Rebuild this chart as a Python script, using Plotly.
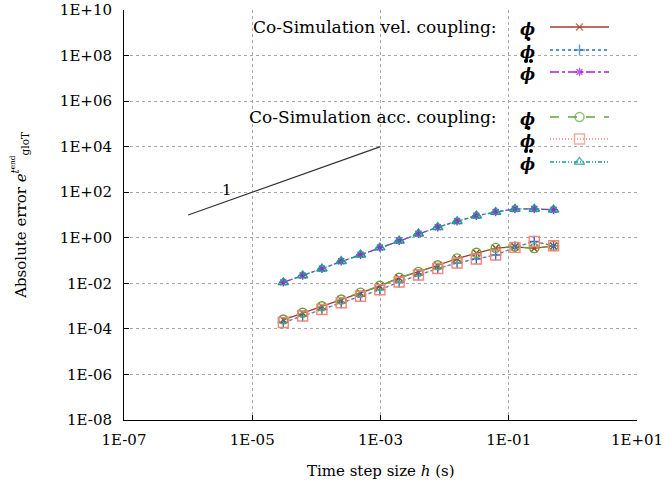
import plotly.graph_objects as go

# ---------------- data ----------------
h = [3.0518e-05, 6.1035e-05, 1.2207e-04, 2.4414e-04, 4.8828e-04, 9.7656e-04,
     1.9531e-03, 3.9063e-03, 7.8125e-03, 1.5625e-02, 3.125e-02, 6.25e-02,
     0.125, 0.25, 0.5]

vel_phi = [2.5e-4, 5.0e-4, 9.7e-4, 1.9e-3, 3.8e-3, 7.6e-3, 0.0172, 0.0316,
           0.061, 0.123, 0.215, 0.355, 0.40, 0.34, 0.44]
vel_dphi = [1.9e-4, 3.7e-4, 7.1e-4, 1.4e-3, 2.7e-3, 5.2e-3, 0.0115, 0.0233,
            0.045, 0.078, 0.117, 0.176, 0.38, 0.69, 0.44]
vel_ddphi = [0.011, 0.022, 0.044, 0.093, 0.18, 0.37, 0.74, 1.5, 2.9, 5.3,
             9.3, 13.5, 18.4, 18.4, 17.0]

acc_phi = [2.6e-4, 5.1e-4, 9.9e-4, 1.95e-3, 3.9e-3, 7.8e-3, 0.0175, 0.032,
           0.062, 0.125, 0.22, 0.36, 0.41, 0.35, 0.44]
acc_dphi = [1.9e-4, 3.7e-4, 7.1e-4, 1.4e-3, 2.7e-3, 5.2e-3, 0.0115, 0.0233,
            0.045, 0.078, 0.117, 0.176, 0.38, 0.69, 0.45]
acc_ddphi = [0.011, 0.022, 0.044, 0.093, 0.18, 0.37, 0.74, 1.5, 2.9, 5.3,
             9.3, 13.5, 18.4, 18.4, 17.0]

slope_x = [1e-6, 1e-3]
slope_y = [1e1, 1e4]

xtick_vals = [1e-7, 1e-5, 1e-3, 1e-1, 1e1]
xtick_text = ["1E-07", "1E-05", "1E-03", "1E-01", "1E+01"]
ytick_vals = [1e-8, 1e-6, 1e-4, 1e-2, 1e0, 1e2, 1e4, 1e6, 1e8, 1e10]
ytick_text = ["1E-08", "1E-06", "1E-04", "1E-02", "1E+00", "1E+02",
              "1E+04", "1E+06", "1E+08", "1E+10"]

PHI = "\u03d5"
group_titles = ["Co-Simulation vel. coupling:", "Co-Simulation acc. coupling:"]

FONT = "DejaVu Serif"

# styles: (color, dash, symbol, size)
styles = [
    ("#a33b2a", "solid", "x-thin-open", 7),
    ("#1e6fd0", "dot", "cross-thin-open", 8),
    ("#a321d6", "dashdot", "asterisk-open", 7),
    ("#65a33a", "dash", "circle-open", 9),
    ("#f4877a", "1px,2px", "square-open", 10),
    ("#1e9d8f", "4px,2px,1px,2px,1px,2px", "triangle-up-open", 9),
]
series = [vel_phi, vel_dphi, vel_ddphi, acc_phi, acc_dphi, acc_ddphi]

fig = go.Figure()

for (col, dash, sym, sz), ys in zip(styles, series):
    fig.add_trace(go.Scatter(
        x=h, y=ys, mode="lines+markers",
        line=dict(color=col, width=1.3, dash=dash),
        marker=dict(symbol=sym, size=sz, color=col,
                    line=dict(color=col, width=1.4)),
        showlegend=False, xaxis="x", yaxis="y"))

fig.add_trace(go.Scatter(x=slope_x, y=slope_y, mode="lines",
                         line=dict(color="#333333", width=1.2),
                         showlegend=False))

# ---------- custom legend (pixel-like overlay axes) ----------
rows_y = [[27, 50, 72], [117, 139, 162]]
annots = []
dots_x, dots_y = [], []
for g in range(2):
    annots.append(dict(xref="x2", yref="y2", x=499, y=rows_y[g][0],
                       text=group_titles[g], showarrow=False,
                       xanchor="right", yanchor="middle",
                       font=dict(family=FONT, size=17, color="black")))
    for r in range(3):
        (col, dash, sym, sz) = styles[g * 3 + r]
        yy = rows_y[g][r]
        fig.add_trace(go.Scatter(
            x=[550, 579.5, 609], y=[yy, yy, yy], mode="lines+markers",
            line=dict(color=col, width=1.3, dash=dash),
            marker=dict(symbol=sym, size=[0, sz, 0], color=col,
                        line=dict(color=col, width=1.4)),
            showlegend=False, xaxis="x2", yaxis="y2", hoverinfo="skip"))
        annots.append(dict(xref="x2", yref="y2", x=527, y=yy + 2,
                           text="<b><i>" + PHI + "</i></b>",
                           showarrow=False, xanchor="center", yanchor="middle",
                           font=dict(family=FONT, size=16, color="black")))
        if r == 1:
            dots_x += [528.5]
            dots_y += [yy - 11]
        elif r == 2:
            dots_x += [526.0, 531.0]
            dots_y += [yy - 11, yy - 11]

fig.add_trace(go.Scatter(x=dots_x, y=dots_y, mode="markers",
                         marker=dict(symbol="circle", size=4, color="black",
                                     line=dict(width=0)),
                         cliponaxis=False,
                         showlegend=False, xaxis="x2", yaxis="y2",
                         hoverinfo="skip"))

annots.append(dict(xref="x", yref="y", x=-5.39, y=2.1, text="1",
                   showarrow=False, xanchor="center", yanchor="middle",
                   font=dict(family=FONT, size=15, color="black")))

# axis titles
annots.append(dict(xref="paper", yref="paper", x=0.5, y=-0.125,
                   xanchor="center", yanchor="middle", showarrow=False,
                   text="Time step size <i>h</i> (s)",
                   font=dict(family=FONT, size=15, color="black")))
annots.append(dict(xref="paper", yref="paper", x=-0.205, y=0.5,
                   xanchor="center", yanchor="middle", showarrow=False,
                   textangle=-90,
                   text="Absolute error <i>e</i><sup><i>t</i><sup>end</sup></sup><sub>gloT</sub>",
                   font=dict(family=FONT, size=15, color="black")))

axis_common = dict(
    showline=True, linecolor="black", linewidth=1,
    ticks="inside", ticklen=5, tickcolor="black",
    showgrid=True, gridcolor="#a8a8a8", griddash="3px,3px", gridwidth=1,
    zeroline=False, mirror=False, automargin=False,
    tickfont=dict(family=FONT, size=15, color="black"),
)

fig.update_layout(
    width=664, height=491,
    margin=dict(l=124, r=27, t=10, b=71),
    plot_bgcolor="white", paper_bgcolor="white",
    font=dict(family=FONT, size=15, color="black"),
    xaxis=dict(type="log", range=[-7, 1], tickvals=xtick_vals,
               ticktext=xtick_text, ticklabelstandoff=6,
               **axis_common),
    yaxis=dict(type="log", range=[-8, 10], tickvals=ytick_vals,
               ticktext=ytick_text, ticklabelstandoff=8,
               **axis_common),
    xaxis2=dict(overlaying="x", range=[124, 637], visible=False),
    yaxis2=dict(overlaying="y", range=[420, 10], visible=False),
    annotations=annots,
)

fig.write_html("out.html")
